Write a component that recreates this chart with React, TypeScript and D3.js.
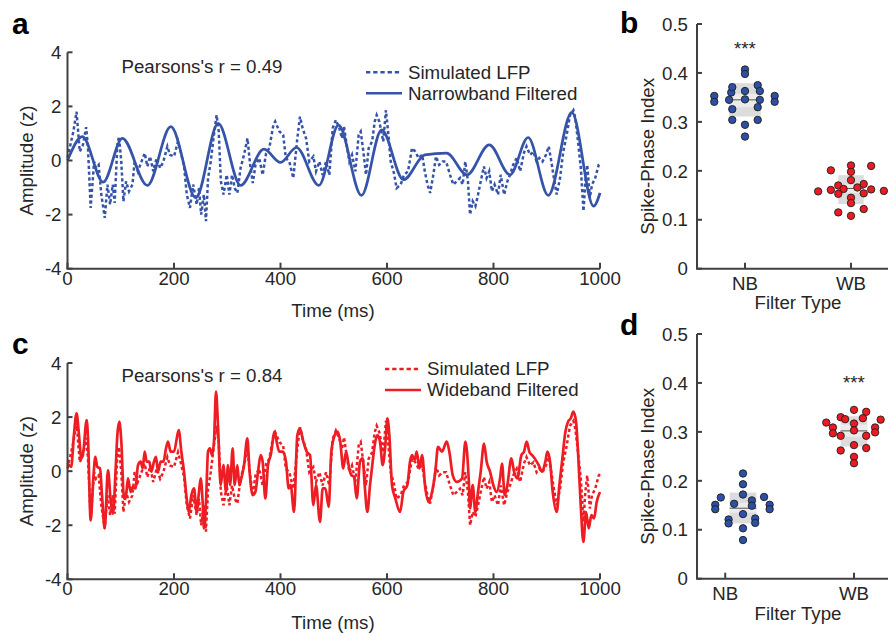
import React from 'react';
import * as d3 from 'd3';

// ---------------- DATA ----------------
const timeTicks = [0, 200, 400, 600, 800, 1000];
const ampTicks = [-4, -2, 0, 2, 4];
const spiTicks = [0, 0.1, 0.2, 0.3, 0.4, 0.5];
const spiTickLabels = ['0', '0.1', '0.2', '0.3', '0.4', '0.5'];
const filterTypes = ['NB', 'WB'];

// Simulated LFP (ms, z)
const lfpT = [0, 11, 17, 23, 29, 35, 38.5, 43.5, 50, 53.5, 58.5, 63.5, 70, 75, 80, 85, 88.6, 93.6, 96.7, 101, 105, 110, 115.5, 122, 126, 132, 139, 145, 150, 155, 161, 167.5, 174, 180, 187.5, 192.5, 200, 207.5, 212.5, 219, 224, 230, 236, 242.6, 247, 251, 256, 260, 264, 269, 275, 280, 284, 288, 293, 299, 304, 309, 314, 319, 325, 331.5, 338, 343, 348, 353, 360, 366.5, 373, 379, 386.6, 390, 398, 405, 410, 416.6, 424, 431.6, 436.6, 441.6, 448, 454, 461.7, 466.7, 473, 479, 485.5, 491.7, 498, 504,
  510.5, 515.5, 519.3, 524.3, 529.3, 534.3, 540.6, 546.8, 550.6, 555.6, 560.6, 565.6, 572, 577, 580.6, 585.6, 593, 598, 602.6, 607, 613, 618, 625.7, 632, 639.5, 647, 653, 659.5, 666, 671, 676, 681, 687, 692, 698, 704.6, 711, 718.4, 724.6, 731, 737, 742, 747, 752, 756, 761, 766, 771, 776, 782, 787, 792, 797, 802, 808.5, 813.5, 820, 826, 831, 837, 843.6, 850, 857, 862, 868.6, 875, 881, 886, 892, 898.6, 903.7, 908.7, 912.4, 918.7, 925, 931, 937.5, 943.7, 950, 953.7, 958.7, 964, 969, 972.5, 976, 981, 985, 991, 997.6, 1000];
const lfpV = [0.1, 1.07, 1.8, 0.33, 0.58, 1.23, 0.46, -1.75, -0.04, -0.28, -0.16, -1.26, -2.12, -0.89, -1.63, -0.89, -1.57, 0.58, 0.89, -0.04, -1.51, -0.77, -1.14, -0.89, -0.04, -0.4, -0.04, 0.27, -0.22, 0.15, -0.4, 0.09, -0.28, -0.04, 0.52, 0.21, 0.15, 0.7, 0.33, -0.22, -1.26, -1.75, -0.89, -1.63, -1.02, -2.0, -1.26, -2.24, -0.65, -0.04, 0.95, 1.68, 1.07, -0.77, -1.26, -0.53, -1.26, -0.53, -1.02, -1.2, -0.28, 0.21, 0.82, -0.16, -0.83, -0.16, 0.09, -0.53, 0.27, 0.46, 1.31, 1.44, 1.07, 0.95, 0.09, -0.04, -0.65, 0.82, 1.62, 1.19, 0.82, -0.04, 0.15, -0.4, -0.04, -0.53, -0.04, -0.53, 1.19, 1.5,
  1.19, 0.82, 1.25, 0.58, -0.04, 0.21, -0.4, 0.95, 1.07, 0.33, -0.53, 0.46, 0.7, 1.44, 1.68, 1.44, 0.7, 1.86, 0.95, -0.04, -0.46, -1.02, -0.89, -0.53, -0.4, 0.46, 0.33, 0.09, 0.21, -0.4, -0.89, -1.2, -0.53, 0.15, -0.16, -0.04, -0.04, -0.53, -0.89, -0.77, -0.65, -0.89, -0.04, -0.77, -2.0, -1.51, -1.69, -1.26, -0.77, -0.22, -0.65, -0.4, -1.14, -0.89, -1.26, -0.53, -1.26, -0.77, -0.53, -0.16, 0.09, -0.4, 0.27, 0.52, 0.21, 0.33, -0.04, 0.09, -0.04, 0.21, 0.52, -0.04, -0.53, -1.26, -0.65, 0.33, 0.95, 1.68, 1.86, 1.56, 0.7, -0.28, -1.87, -0.77, -0.16, -1.38, -0.89, -0.65, -0.16, -0.1];

// Narrowband filtered (ms, z)
const nbT = [0, 28, 67, 103, 150, 194, 241, 283, 325, 369, 400, 430, 472, 509, 552, 590, 631, 671, 712, 750, 792, 831, 865, 903, 947, 988, 1000];
const nbV = [0.0, 0.88, -0.8, 0.82, -0.92, 1.25, -1.38, 1.37, -0.92, 0.42, -0.07, 0.48, -0.92, 1.31, -1.29, 1.13, -0.71, 0.21, 0.27, -0.53, 0.58, -0.53, 0.85, -1.29, 1.78, -1.69, -1.2];

// Wideband filtered (ms, z)
const wbT = [0, 7, 12, 17, 21.6, 26, 29.7, 36, 38.5, 43.5, 48.5, 52.3, 56, 61, 64.8, 69.8, 76, 81, 85.4, 90.5, 93.6, 97.3, 101.1, 106.1, 109.9, 113.6, 118.6, 122.4, 127.4, 132.4, 137.4, 141.2, 144.9, 148.7, 153.7, 157.4, 162.4, 166.2, 169.9, 175, 180, 185, 188.7, 193.7, 200, 208.8, 213.8, 218.8, 223.8, 227.6, 232.6, 237.6, 242.6, 246.3, 250.1, 253.8, 256.3, 260.1, 263.9, 267.6, 271.4, 275.1, 278.9, 282.6, 287.7, 292.7, 297.7, 301.4, 305.2, 310.2, 313.9, 318.9, 322.7, 326.4, 331.5, 337.7, 341.5, 347.7, 352.8, 357.8, 362.8, 366.5, 371.5, 376.5, 381.6, 389.1, 392.8, 397.8, 404.1, 410.3, 415.4, 419.1, 425.4, 431.6, 436.6, 442.9, 449.2, 455.4, 461.7, 466.7, 474.2, 479.2, 484.2, 490.5, 495.5, 501.7,
  506.8, 511.8, 518, 523, 528, 533, 538, 543.1, 549.3, 554.3, 558.1, 563.1, 568.1, 573.1, 576.9, 581.9, 586.9, 591.9, 596.9, 600.7, 604.4, 609.4, 615.7, 624.5, 630.7, 638.2, 643.2, 647, 652, 655.8, 660.8, 665.8, 672, 678.3, 684.6, 690.8, 695.8, 703.3, 712.1, 717.1, 723.4, 730.9, 740.9, 747.2, 753.4, 755.9, 760.9, 765.9, 770.9, 776, 782.2, 787.2, 793.5, 799.7, 806, 812.3, 816, 821, 826, 833.5, 838.6, 844.8, 852.3, 857.3, 862.3, 867.3, 872.4, 877.4, 884.9, 891.1, 897.4, 901.2, 906.2, 911.2, 918.7, 923.7, 928.7, 935, 940, 945, 950, 955, 958.7, 963.8, 968.8, 973.8, 978.8, 983.8, 988.8, 993.8, 1000];
const wbV = [0.3, 0.16, 1.33, 2.14, 1.33, 0.47, 0.72, 1.89, 1.21, -1.82, -0.27, 0.53, 0.16, 0.1, -0.89, -2.12, 0.04, -1.07, -1.57, 0.1, 1.33, 1.83, 1.09, -1.01, -0.89, -0.27, -0.77, -0.58, -0.64, 0.22, 0.35, 0.1, 0.72, 0.35, 0.35, -0.02, 0.35, 0.53, -0.02, 0.35, 0.35, 0.84, 1.09, 0.72, 0.72, 1.52, 0.72, -0.02, -1.01, -1.51, -0.89, -0.64, -1.51, -0.89, -0.27, -1.14, -2.12, -1.14, 0.72, 0.84, 0.59, 1.09, 2.94, 1.7, -0.52, 0.22, -0.77, 0.22, -0.52, 0.84, -0.52, 0.22, -0.52, -0.27, 0.22, 1.21, 0.1, -0.89, -0.77, -0.02, 0.59, 0.35, -1.01, 0.22, 0.59, 1.46, 1.09, 0.72, 0.72, 0.35, -0.64, -0.52, -1.51, 1.33, 1.58, 1.09, 0.72, 0.59, -1.26, -0.52, -1.88, -0.64, -0.64, -1.32, 0.72, 1.33,
  1.46, 1.15, 0.1, 0.72, 0.22, -0.15, -0.21, -1.01, 0.35, 0.47, -0.52, -1.51, -0.52, 0.35, 0.96, 1.33, 1.09, 0.22, 0.96, 1.95, 1.33, -0.52, -1.01, -1.51, -0.77, -0.52, 0.35, 0.59, 0.41, 0.72, 0.1, 0.59, -0.64, -1.14, -0.77, -0.02, 0.9, 0.72, 1.09, 0.72, -0.15, -0.4, -0.27, 1.09, -0.27, -1.38, -0.52, -1.51, -0.77, -0.02, 1.02, 0.35, -0.02, -0.52, -0.77, -0.27, 0.28, -0.89, -0.52, 0.47, -0.02, -0.27, 0.59, 0.72, 1.09, 0.72, 0.59, 0.47, 0.22, -0.02, 0.35, 0.72, 0.35, -0.77, -1.51, -0.52, 0.35, 1.46, 1.83, 1.95, 2.2, 1.83, 0.72, -1.26, -2.62, -1.51, -2.12, -1.63, -1.75, -1.14, -0.77];

// Spike-phase index, panel b (narrowband): values and swarm offsets (category units)
const bNBVal = [0.353, 0.341, 0.407, 0.398, 0.36, 0.371, 0.363, 0.375, 0.363, 0.345, 0.346, 0.345, 0.326, 0.33, 0.304, 0.304, 0.294, 0.27, 0.353, 0.341];
const bNBOff = [-0.29, -0.29, 0, 0, -0.13, -0.12, 0, 0.12, 0.14, -0.15, 0, 0.14, -0.12, 0.12, -0.12, 0.12, 0, 0, 0.28, 0.28];
const bWBVal = [0.158, 0.201, 0.211, 0.21, 0.198, 0.181, 0.17, 0.173, 0.161, 0.163, 0.166, 0.162, 0.153, 0.154, 0.145, 0.134, 0.115, 0.122, 0.108, 0.159];
const bWBOff = [-0.31, -0.19, 0, 0.19, 0, 0, -0.12, 0.12, -0.19, -0.07, 0.06, 0.19, -0.12, 0.12, 0, 0, -0.12, 0.12, 0, 0.31];
// panel d (wideband)
const dNBVal = [0.215, 0.193, 0.172, 0.166, 0.167, 0.151, 0.142, 0.151, 0.142, 0.153, 0.16, 0.149, 0.132, 0.121, 0.113, 0.123, 0.114, 0.103, 0.079];
const dNBOff = [0, 0, 0, -0.2, 0.19, -0.25, -0.25, 0.24, 0.24, -0.08, 0.08, 0.08, 0, -0.13, -0.13, 0.11, 0.11, 0, 0];
const dWBVal = [0.345, 0.341, 0.33, 0.326, 0.328, 0.325, 0.319, 0.317, 0.309, 0.297, 0.309, 0.299, 0.303, 0.292, 0.292, 0.273, 0.262, 0.267, 0.249, 0.236];
const dWBOff = [0, 0.11, -0.12, -0.08, 0.08, 0.24, -0.25, 0, -0.19, -0.19, 0.19, 0.19, 0, -0.12, 0.11, 0, -0.12, 0.11, 0, 0];

// summary boxes: [sdLow, sdHigh, semLow, semHigh, mean]
const bNBStats = [0.311, 0.379, 0.33, 0.357, 0.345];
const bWBStats = [0.132, 0.191, 0.155, 0.172, 0.164];
const dNBStats = [0.113, 0.176, 0.135, 0.155, 0.144];
const dWBStats = [0.27, 0.332, 0.29, 0.315, 0.302];

// ---------------- STYLE ----------------
const FONT = '"Liberation Sans", Arial, Helvetica, sans-serif';
const AX = '#404040';
const TXT = '#262626';
const BLUE = '#3553a8';
const RED = '#ee1d24';
const BLUE_DOT = '#2c50a3';
const RED_DOT = '#ec1b23';
const FS = 18.7;

function TracePanel(props: any) {
  const { top, bottom, color, fT, fV, filtName, rText, rY, legX, legY, letter, letterY, xLabelY } = props;
  const x = d3.scaleLinear().domain([0, 1000]).range([67.5, 600]);
  const y = d3.scaleLinear().domain([-4, 4]).range([bottom, top]);
  const lfpLine = d3.line<number>().x((_, i) => x(lfpT[i])).y((d) => y(d)).curve(d3.curveLinear);
  const filtLine = d3.line<number>().x((_, i) => x(fT[i])).y((d) => y(d)).curve(d3.curveMonotoneX);
  const x0 = x(0);
  const yb = y(-4);
  return (
    <g>
      <text x={12} y={letterY} fontSize={30} fontWeight="bold" fill="#000" fontFamily={FONT}>{letter}</text>
      <path d={lfpLine(lfpV) || ''} fill="none" stroke={color} strokeWidth={2.5} strokeDasharray="3.2 2.6" />
      <path d={filtLine(fV) || ''} fill="none" stroke={color} strokeWidth={2.7} strokeLinejoin="round" />
      {/* axes */}
      <line x1={x0} x2={x0} y1={y(4)} y2={yb} stroke={AX} strokeWidth={2} />
      <line x1={x0 - 1} x2={x(1000)} y1={yb} y2={yb} stroke={AX} strokeWidth={2} />
      {ampTicks.map((t) => (
        <g key={'y' + t}>
          <line x1={x0} x2={x0 + 5} y1={y(t)} y2={y(t)} stroke={AX} strokeWidth={2} />
          <text x={x0 - 6} y={y(t)} dy="0.36em" textAnchor="end" fontSize={FS} fill={TXT} fontFamily={FONT}>{t}</text>
        </g>
      ))}
      {timeTicks.map((t) => (
        <g key={'x' + t}>
          <line x1={x(t)} x2={x(t)} y1={yb} y2={yb - 6} stroke={AX} strokeWidth={2} />
          <text x={x(t)} y={yb + 16} textAnchor="middle" fontSize={FS} fill={TXT} fontFamily={FONT}>{t}</text>
        </g>
      ))}
      <text x={333} y={xLabelY} textAnchor="middle" fontSize={FS} fill={TXT} fontFamily={FONT}>Time (ms)</text>
      <text transform={`translate(33,${y(0)}) rotate(-90)`} textAnchor="middle" fontSize={FS} fill={TXT} fontFamily={FONT}>Amplitude (z)</text>
      <text x={121.5} y={rY} fontSize={FS} fill={TXT} fontFamily={FONT}>{rText}</text>
      {/* legend */}
      <line x1={legX} x2={legX + 36} y1={legY} y2={legY} stroke={color} strokeWidth={2.4} strokeDasharray="4.3 2.9" />
      <text x={legX + 42} y={legY + 6.3} fontSize={FS} fill={TXT} fontFamily={FONT}>Simulated LFP</text>
      <line x1={legX} x2={legX + 36} y1={legY + 21} y2={legY + 21} stroke={color} strokeWidth={2.6} />
      <text x={legX + 42} y={legY + 27.3} fontSize={FS} fill={TXT} fontFamily={FONT}>{filtName}</text>
    </g>
  );
}

function SwarmPanel(props: any) {
  const { top, bottom, xNB, xWB, tickPos, groups, starGroup, starVal, letter, letterY, catLabelY, xLabelY } = props;
  const y = d3.scaleLinear().domain([0, 0.5]).range([bottom, top]);
  const x = d3.scaleLinear().domain([1, 2]).range([xNB, xWB]);
  const axL = 697;
  const axR = 888;
  return (
    <g>
      <text x={620} y={letterY} fontSize={30} fontWeight="bold" fill="#000" fontFamily={FONT}>{letter}</text>
      {groups.map((g: any, gi: number) => {
        const c = gi + 1;
        const [sdL, sdH, seL, seH, mean] = g.stats;
        return (
          <g key={'g' + gi}>
            <rect x={x(c - g.hw)} width={x(c + g.hw) - x(c - g.hw)} y={y(sdH)} height={y(sdL) - y(sdH)} fill="#dcdcdc" />
            <rect x={x(c - g.hw)} width={x(c + g.hw) - x(c - g.hw)} y={y(seH)} height={y(seL) - y(seH)} fill="#ececec" />
            <line x1={x(c - g.hw)} x2={x(c + g.hw)} y1={y(mean)} y2={y(mean)} stroke="#555" strokeWidth={1} />
            {g.val.map((v: number, i: number) => (
              <circle key={i} cx={x(c + g.off[i])} cy={y(v)} r={3.7} fill={g.color} stroke="#1e1e1e" strokeWidth={0.9} />
            ))}
          </g>
        );
      })}
      <line x1={axL} x2={axL} y1={y(0.5)} y2={y(0)} stroke={AX} strokeWidth={2} />
      <line x1={axL - 1} x2={axR} y1={y(0)} y2={y(0)} stroke={AX} strokeWidth={2} />
      {spiTicks.map((t, i) => (
        <g key={'y' + t}>
          <line x1={axL} x2={axL + 5} y1={y(t)} y2={y(t)} stroke={AX} strokeWidth={2} />
          <text x={axL - 9} y={y(t)} dy="0.36em" textAnchor="end" fontSize={FS} fill={TXT} fontFamily={FONT}>{spiTickLabels[i]}</text>
        </g>
      ))}
      {filterTypes.map((f, i) => (
        <g key={f}>
          <line x1={x(tickPos[i])} x2={x(tickPos[i])} y1={y(0)} y2={y(0) - 6} stroke={AX} strokeWidth={2} />
          <text x={x(tickPos[i])} y={catLabelY} textAnchor="middle" fontSize={FS} fill={TXT} fontFamily={FONT}>{f}</text>
        </g>
      ))}
      <text x={798} y={xLabelY} textAnchor="middle" fontSize={FS} fill={TXT} fontFamily={FONT}>Filter Type</text>
      <text transform={`translate(654,${(y(0) + y(0.5)) / 2 + 10}) rotate(-90)`} textAnchor="middle" fontSize={FS} fill={TXT} fontFamily={FONT}>Spike-Phase Index</text>
      <text x={x(starGroup)} y={y(starVal)} textAnchor="middle" fontSize={FS} fill={TXT} fontFamily={FONT}>***</text>
    </g>
  );
}

export default function App() {
  return (
    <svg width={890} height={636} viewBox="0 0 890 636" style={{ position: 'absolute', left: 0, top: 0, background: '#fff' }}>
      <rect width={890} height={636} fill="#fff" />
      <TracePanel top={52.3} bottom={268.7} color={BLUE} fT={nbT} fV={nbV} filtName="Narrowband Filtered"
        rText="Pearsons's r = 0.49" rY={73} legX={366} legY={72.3} letter="a" letterY={34} xLabelY={317} />
      <TracePanel top={363} bottom={579.3} color={RED} fT={wbT} fV={wbV} filtName="Wideband Filtered"
        rText="Pearsons's r = 0.84" rY={382} legX={385} legY={369} letter="c" letterY={354} xLabelY={629} />
      <SwarmPanel top={24} bottom={268.7} xNB={745} xWB={851} tickPos={[1, 2]}
        groups={[
          { val: bNBVal, off: bNBOff, stats: bNBStats, hw: 0.15, color: BLUE_DOT },
          { val: bWBVal, off: bWBOff, stats: bWBStats, hw: 0.12, color: RED_DOT },
        ]}
        starGroup={1} starVal={0.437} letter="b" letterY={33} catLabelY={290} xLabelY={309} />
      <SwarmPanel top={334} bottom={578.7} xNB={743} xWB={854} tickPos={[0.84, 2]}
        groups={[
          { val: dNBVal, off: dNBOff, stats: dNBStats, hw: 0.12, color: BLUE_DOT },
          { val: dWBVal, off: dWBOff, stats: dWBStats, hw: 0.12, color: RED_DOT },
        ]}
        starGroup={2} starVal={0.387} letter="d" letterY={335} catLabelY={600} xLabelY={620} />
    </svg>
  );
}
